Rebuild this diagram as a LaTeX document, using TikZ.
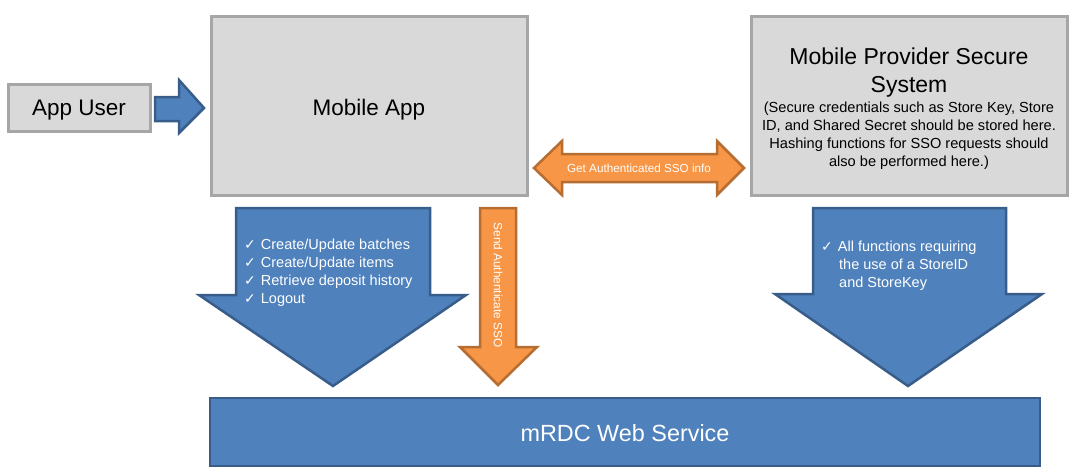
\documentclass[tikz,border=0pt]{standalone}
\usepackage{fontspec}
\setmainfont{Liberation Sans}
\newfontfamily\symfont{DejaVu Sans}
\definecolor{gfill}{HTML}{D9D9D9}
\definecolor{gline}{HTML}{A6A6A6}
\definecolor{bfill}{HTML}{4F81BD}
\definecolor{bline}{HTML}{385D8A}
\definecolor{ofill}{HTML}{F79646}
\definecolor{oline}{HTML}{B66D31}
\newcommand{\chk}{{\symfont\fontsize{14}{18}\selectfont ✓}}
\begin{document}
\begin{tikzpicture}[x=1pt,y=-1pt,
  graybox/.style={fill=gfill,draw=gline,line width=3pt},
  bluebox/.style={fill=bfill,draw=bline,line width=2.5pt},
  bluearrow/.style={fill=bfill,draw=bline,line width=2.5pt,line join=miter},
  orangearrow/.style={fill=ofill,draw=oline,line width=2.5pt,line join=miter},
  wtext/.style={text=white,inner sep=0pt},
  ktext/.style={text=black,inner sep=0pt}]
\useasboundingbox (0,0) rectangle (1079,474);
% boxes
\draw[graybox] (8,84) rectangle (150,131);
\node[ktext,font=\fontsize{22.5}{24}\selectfont,anchor=base] (user) at (79,115) {App User};
\draw[graybox] (211,16) rectangle (527,195);
\node[ktext,font=\fontsize{22.5}{24}\selectfont,anchor=base] (app) at (369,115) {Mobile App};
\draw[graybox] (751,16) rectangle (1067,195);
\node[ktext,font=\fontsize{23}{28}\selectfont,align=center] (prov) at (909,73) {Mobile Provider Secure\\System};
\node[ktext,font=\fontsize{14.6}{18}\selectfont,align=center] (provtxt) at (909,136) {(Secure credentials such as Store Key, Store\\ID, and Shared Secret should be stored here.\\Hashing functions for SSO requests should\\also be performed here.)};
\draw[bluebox] (210,398) rectangle (1040,466);
\node[wtext,font=\fontsize{23.4}{24}\selectfont,anchor=base] (ws) at (625,441) {mRDC Web Service};
% small blue arrow
\draw[bluearrow] (155,97) -- (179,97) -- (179,80) -- (204,108) -- (179,133) -- (179,121) -- (155,121) -- cycle;
% orange double arrow
\draw[orangearrow] (534,168) -- (562,141) -- (562,154) -- (717,154) -- (717,141) -- (744,168) -- (717,195) -- (717,182) -- (562,182) -- (562,195) -- cycle;
\node[wtext,font=\fontsize{11.7}{12}\selectfont] (sso) at (639,168) {Get Authenticated SSO info};
% left blue down arrow
\draw[bluearrow] (236,208) -- (430,208) -- (430,295) -- (466,295) -- (333,386) -- (199,295) -- (236,295) -- cycle;
\node[wtext,font=\fontsize{14.5}{18}\selectfont,anchor=north west,align=left] (list1) at (244,239) {\chk\hspace{5pt}Create/Update batches\\\chk\hspace{5pt}Create/Update items\\\chk\hspace{5pt}Retrieve deposit history\\\chk\hspace{5pt}Logout};
% orange down arrow
\draw[orangearrow] (480,208) -- (516,208) -- (516,347) -- (537,347) -- (498,385) -- (460,347) -- (480,347) -- cycle;
\node[wtext,font=\fontsize{11.8}{12}\selectfont,rotate=-90] (send) at (498,285) {Send Authenticate SSO};
% right blue down arrow
\draw[bluearrow] (813,208) -- (1006,208) -- (1006,294) -- (1042,294) -- (908,386) -- (775,294) -- (813,294) -- cycle;
\node[wtext,font=\fontsize{14.5}{18}\selectfont,anchor=north west,align=left] (list2) at (821,241) {\chk\hspace{5pt}All functions requiring\\\hspace{18pt}the use of a StoreID\\\hspace{18pt}and StoreKey};
\end{tikzpicture}
\end{document}
